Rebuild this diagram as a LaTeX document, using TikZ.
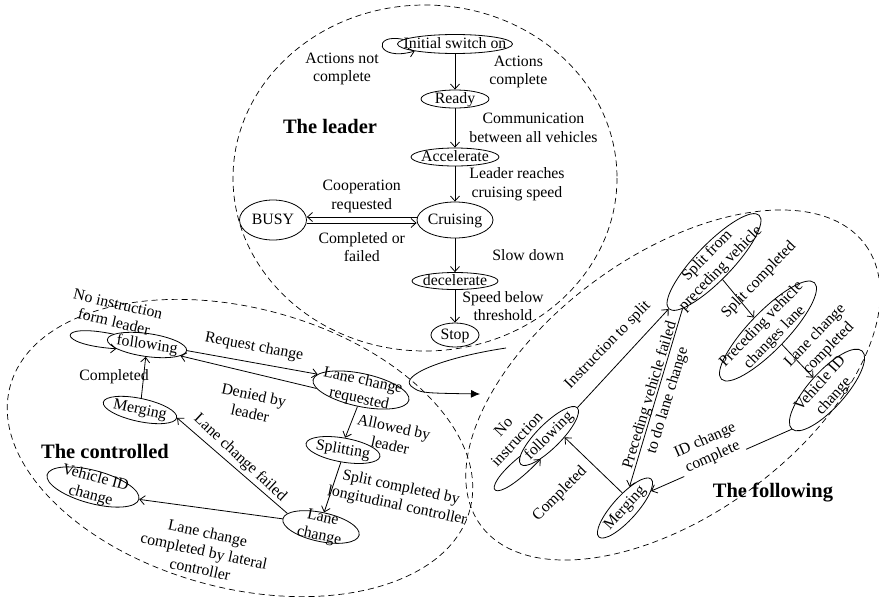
\documentclass[tikz,border=0pt]{standalone}
\usepackage{fontspec}
\setmainfont{Liberation Serif}
\usetikzlibrary{arrows.meta, positioning, shapes.geometric}

% text set in a box of no size, so the ellipse takes only the given size
\newcommand{\sttext}[1]{\smash{\makebox[0pt]{\raisebox{-0.25em}{\begin{tabular}{@{}c@{}}#1\end{tabular}}}}}

\begin{document}
\begin{tikzpicture}[
    x=1pt, y=-1pt,
    line width=0.8pt,
    every node/.style={font=\fontsize{15.8}{18.5}\selectfont},
    state/.style={ellipse, draw, inner sep=0pt},
    lbl/.style={inner sep=1pt, align=center},
    title/.style={font=\fontsize{20.5}{24}\selectfont\bfseries},
    region/.style={draw, line width=0.7pt, dash pattern=on 6pt off 4pt},
    >={Straight Barb[length=5pt, width=9pt]}
  ]
  \useasboundingbox (0,0) rectangle (879,600);

  % leader
  \draw[region] (425,178) ellipse [x radius=192, y radius=173];
  \node[state, minimum width=115, minimum height=19] (init) at (455,44) {\sttext{Initial switch on}};
  \node[state, minimum width=68, minimum height=18] (ready) at (455,99) {\sttext{Ready}};
  \node[state, minimum width=88, minimum height=18] (accel) at (455,157) {\sttext{Accelerate}};
  \node[state, minimum width=76, minimum height=36] (cruis) at (455,220) {\sttext{Cruising}};
  \node[state, minimum width=86, minimum height=17] (decel) at (455,281) {\sttext{decelerate}};
  \node[state, minimum width=48, minimum height=24] (stop) at (455,335) {\sttext{Stop}};
  \node[state, minimum width=67, minimum height=40] (busy) at (273,220) {\sttext{BUSY}};
  \node[title] (tLeader) at (330,126) {The leader};

  \draw[->] (init.175) .. controls +(-32,-7) and +(-39,11) .. (init.190);
  \node[lbl] (lNotDone) at (342,69) {Actions not\\complete};
  \draw[->] (init) -- (ready) node[lbl, midway, right=33pt] (lDone) {Actions\\complete};
  \draw[->] (ready) -- (accel) node[lbl, midway, right=13pt] (lComm) {Communication\\between all vehicles};
  \draw[->] (accel) -- (cruis) node[lbl, midway, right=13pt] (lSpeed) {Leader reaches\\cruising speed};
  \draw[->] (cruis) -- (decel) node[lbl, midway, right=36pt] (lSlow) {Slow down};
  \draw[->] (decel) -- (stop) node[lbl, midway, right=6pt] (lThr) {Speed below\\threshold};
  \draw[->] ([yshift=3]cruis.west) -- ([yshift=3]busy.east)
    node[lbl, midway, above=3pt] (lCoop) {Cooperation\\requested};
  \draw[->] ([yshift=-3]busy.east) -- ([yshift=-3]cruis.west)
    node[lbl, midway, below=8pt] (lBack) {Completed or\\failed};

  % controlled
  \draw[region, rotate around={-15:(240,448)}] (240,448) ellipse [x radius=238, y radius=140];
  \node[state, rotate=-8, minimum width=80, minimum height=23] (cfol) at (147,345) {\sttext{following}};
  \node[state, rotate=-12, minimum width=75, minimum height=23] (cmer) at (140,410) {\sttext{Merging}};
  \node[state, rotate=-15, minimum width=95, minimum height=33] (cvid) at (93,487) {\sttext{Vehicle ID\\change}};
  \node[state, rotate=-12, minimum width=98, minimum height=33] (creq) at (361,390) {\sttext{Lane change\\requested}};
  \node[state, rotate=-10, minimum width=75, minimum height=24] (cspl) at (343,450) {\sttext{Splitting}};
  \node[state, rotate=-12, minimum width=78, minimum height=29] (clan) at (321,527) {\sttext{Lane\\change}};
  \node[title] (tCtrl) at (105,451) {The controlled};

  \draw[->] (cfol.170) .. controls +(-58,-12) and +(-61,-4) .. (cfol.195);
  \draw[->] (cmer) -- (cfol);
  \draw[->] (cfol.east) -- (creq.172);
  \draw[->] (creq.190) -- (cfol.-10);
  \draw[->] (creq.south) -- (cspl.north);
  \draw[->] (cspl.south) -- (clan.north);
  \draw[->] (clan.170) -- (cmer.east);
  \draw[->] (clan.west) -- (cvid.east);

  \node[lbl, rotate=-13] (lNoCtl) at (116,313) {No instruction\\form leader};
  \node[lbl] (lDoneCtl) at (114,377) {Completed};
  \node[lbl, rotate=-11] (lReq) at (254,347) {Request change};
  \node[lbl, rotate=-12] (lDeny) at (252,404) {Denied by\\leader};
  \node[lbl, rotate=-12] (lAllow) at (392,436) {Allowed by\\leader};
  \node[lbl, rotate=-12] (lSplitDone) at (399,497) {Split completed by\\longitudinal controller};
  \node[lbl, rotate=-43] (lFail) at (240,458) {Lane change failed};
  \node[lbl, rotate=-12] (lLat) at (204,551) {Lane change\\completed by lateral\\controller};

  % hand over to the following vehicle
  \coordinate (gOut) at (506,348);
  \coordinate (gIn) at (480,394);
  \draw[-{Latex[length=9pt, width=8pt]}] (gOut) .. controls (440,358) and (400,376) .. (411,386)
    .. controls (420,393) .. (gIn);

  % following
  \draw[region, rotate around={36:(673,385)}] (673,385) ellipse [x radius=238, y radius=130];
  \node[state, rotate=46, minimum width=130, minimum height=36] (fspl) at (714,262) {\sttext{Split from\\preceding vehicle}};
  \node[state, rotate=46, minimum width=134, minimum height=38] (fpre) at (768,331) {\sttext{Preceding vehicle\\changes lane}};
  \node[state, rotate=48, minimum width=105, minimum height=36] (fvid) at (827,390) {\sttext{Vehicle ID\\change}};
  \node[state, rotate=45, minimum width=80, minimum height=24] (ffol) at (549,436) {\sttext{following}};
  \node[state, rotate=48, minimum width=78, minimum height=24] (fmer) at (625,508) {\sttext{Merging}};
  \node[title] (tFol) at (773,493) {The following};

  \draw[->] (ffol.170) .. controls (476,492) and (492,510) .. (ffol.205);
  \draw[->] (ffol.east) -- (fspl.west);
  \draw[->] (fspl.190) -- (fmer.30);
  \draw[->] (fspl.-110) -- (fpre.north);
  \draw[->] (fpre.south) -- (fvid.north);
  \draw[->] (fvid.west) -- (fmer.-15);
  \draw[->] (fmer.52) -- (ffol.-50);

  \node[lbl, rotate=47] (lNoFol) at (510,433) {No\\instruction};
  \node[lbl, rotate=46] (lInst) at (608,345) {Instruction to split};
  \node[lbl, rotate=73] (lPrec) at (659,398) {Preceding vehicle failed\\to do lane change};
  \node[lbl, rotate=46] (lSplC) at (759,280) {Split completed};
  \node[lbl, rotate=46] (lLaneC) at (822,342) {Lane change\\completed};
  \node[lbl, rotate=24, fill=white] (lIdC) at (709,449) {ID change\\complete};
  \node[lbl, rotate=45] (lDoneFol) at (560,494) {Completed};
\end{tikzpicture}
\end{document}
